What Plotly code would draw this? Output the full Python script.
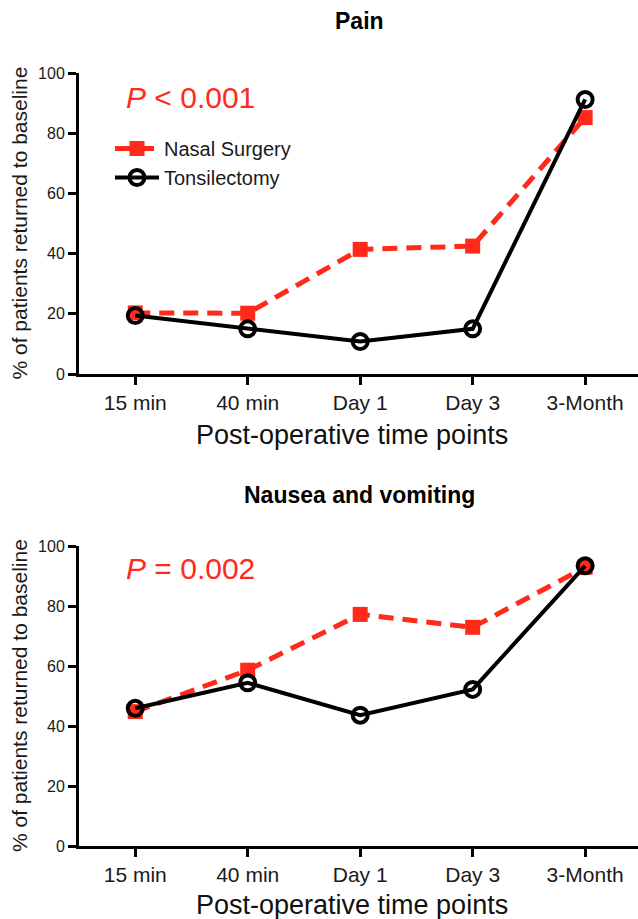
import plotly.graph_objects as go

categories = ["15 min", "40 min", "Day 1", "Day 3", "3-Month"]
y_ticks = [0, 20, 40, 60, 80, 100]

pain_nasal = [20.3, 20.2, 41.4, 42.5, 85.2]
pain_tonsil = [19.4, 15.0, 10.8, 15.0, 91.2]

nausea_nasal = [44.8, 58.6, 77.2, 72.9, 92.9]
nausea_tonsil = [45.9, 54.4, 43.6, 52.2, 93.4]

panel_titles = ["Pain", "Nausea and vomiting"]
p_texts = ["<i>P</i> < 0.001", "<i>P</i> = 0.002"]
series_names = ["Nasal Surgery", "Tonsilectomy"]
x_title = "Post-operative time points"
y_title = "% of patients returned to baseline"

RED = "#FF2A1A"
FONT = "Liberation Sans, Arial, Helvetica, sans-serif"
W, H = 638, 919

fig = go.Figure()

def add_panel(nasal, tonsil, xa, ya, show_legend):
    x_idx = list(range(len(categories)))
    fig.add_trace(go.Scatter(
        x=x_idx, y=nasal, name=series_names[0], mode="lines+markers",
        line=dict(color=RED, width=5, dash="15px,9px"),
        marker=dict(symbol="square", size=15, color=RED),
        xaxis=xa, yaxis=ya, showlegend=show_legend, cliponaxis=False))
    fig.add_trace(go.Scatter(
        x=x_idx, y=tonsil, name=series_names[1], mode="lines+markers",
        line=dict(color="black", width=4),
        marker=dict(symbol="circle-open", size=15, color="black",
                    line=dict(width=4, color="black")),
        xaxis=xa, yaxis=ya, showlegend=show_legend, cliponaxis=False))

add_panel(pain_nasal, pain_tonsil, "x", "y", True)
add_panel(nausea_nasal, nausea_tonsil, "x2", "y2", False)

top_dom = [1 - 374 / H, 1 - 73 / H]
bot_dom = [1 - 846 / H, 1 - 546 / H]
x_dom = [79 / W, 1.0]

xaxis_common = dict(
    domain=x_dom, range=[-0.5, 4.47], tickmode="array",
    tickvals=list(range(len(categories))), ticktext=categories,
    showline=True, linecolor="black", linewidth=3, ticks="outside",
    ticklen=8, tickwidth=2.5, tickcolor="black", showgrid=False,
    zeroline=False, tickfont=dict(family=FONT, size=21, color="#1a1a1a"),
    automargin=False, fixedrange=True)
yaxis_common = dict(
    range=[0, 100], tickvals=y_ticks, showline=True, linecolor="black",
    linewidth=3, ticks="outside", ticklen=8, tickwidth=2.5,
    tickcolor="black", showgrid=False, zeroline=False,
    tickfont=dict(family=FONT, size=16, color="#1a1a1a"), automargin=False)

fig.update_layout(
    width=W, height=H, margin=dict(l=0, r=0, t=0, b=0),
    paper_bgcolor="white", plot_bgcolor="white",
    xaxis=dict(**xaxis_common, anchor="y"),
    yaxis=dict(**yaxis_common, domain=top_dom, anchor="x"),
    xaxis2=dict(**xaxis_common, anchor="y2"),
    yaxis2=dict(**yaxis_common, domain=bot_dom, anchor="x2"),
    showlegend=True,
    legend=dict(x=110 / W, y=1 - 129 / H, xanchor="left", yanchor="top",
                bgcolor="rgba(0,0,0,0)",
                font=dict(family=FONT, size=20, color="#1a1a1a"),
                itemwidth=44),
)

annotations = []
title_y = [21, 495]
p_y = [97, 568]
xt_y = [435, 905]
dom_centers = [(374 + 73) / 2, (846 + 546) / 2]
for i in range(2):
    annotations.append(dict(
        text="<b>" + panel_titles[i] + "</b>", x=360 / W, y=1 - title_y[i] / H,
        xref="paper", yref="paper", showarrow=False, xanchor="center",
        yanchor="middle", font=dict(family=FONT, size=23, color="black")))
    annotations.append(dict(
        text=p_texts[i], x=124 / W, y=1 - p_y[i] / H, xref="paper",
        yref="paper", showarrow=False, xanchor="left", yanchor="middle",
        font=dict(family=FONT, size=30, color=RED)))
    annotations.append(dict(
        text=x_title, x=352 / W, y=1 - xt_y[i] / H, xref="paper",
        yref="paper", showarrow=False, xanchor="center", yanchor="middle",
        font=dict(family=FONT, size=27, color="#111")))
    annotations.append(dict(
        text=y_title, x=19 / W, y=1 - dom_centers[i] / H, xref="paper",
        yref="paper", showarrow=False, xanchor="center", yanchor="middle",
        textangle=-90, font=dict(family=FONT, size=21, color="#1a1a1a")))
fig.update_layout(annotations=annotations)

fig.write_html(
    "out.html",
    config={"displayModeBar": False},
    post_script="document.body.style.margin='0px';document.body.style.overflow='hidden';",
)
